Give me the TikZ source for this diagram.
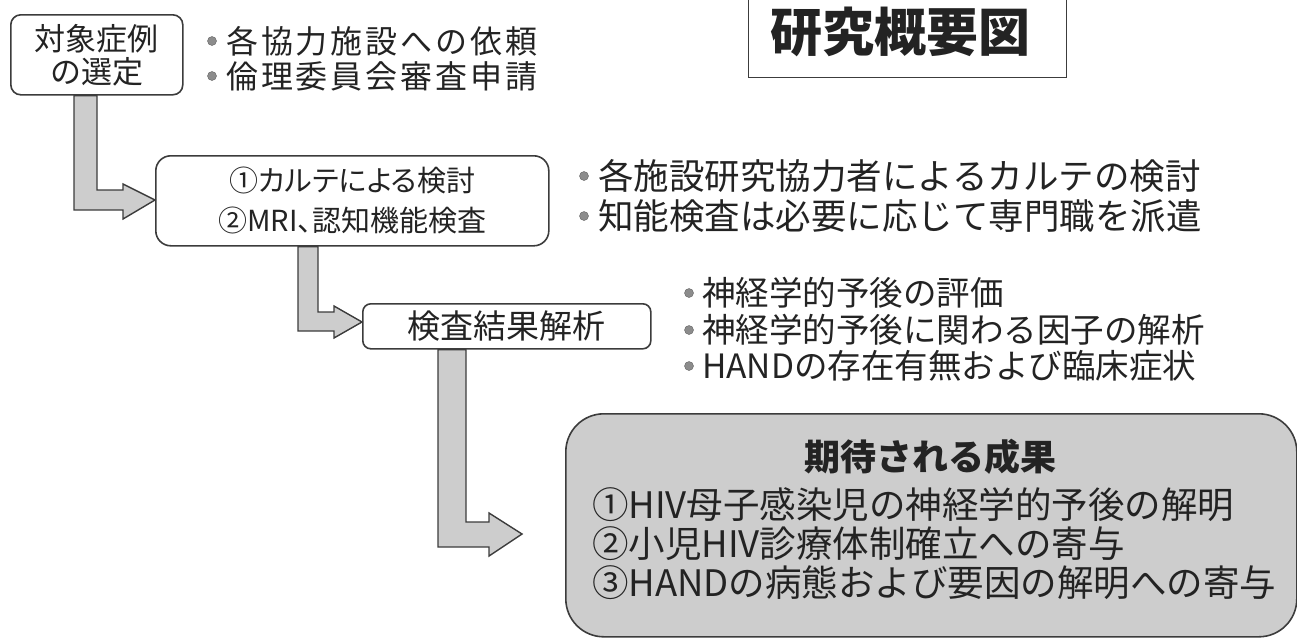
\documentclass[tikz,border=0pt]{standalone}
\usepackage{fontspec}
\setmainfont{Noto Sans CJK JP}
\newfontfamily\jpp[RawFeature=+palt]{Noto Sans CJK JP}
\newfontfamily\jpw[LetterSpace=9]{Noto Sans CJK JP}
\definecolor{inkc}{RGB}{35,35,35}
\definecolor{edgec}{RGB}{60,60,60}
\definecolor{fillg}{RGB}{205,205,205}
\definecolor{dotc}{RGB}{140,140,140}
\tikzset{
  rbox/.style={draw=edgec, line width=1.6pt, fill=white, align=center, text=inkc, inner sep=0pt},
  btxt/.style={anchor=west, text=inkc, inner sep=0pt, font=\fontsize{35.5}{36}\selectfont},
  bdot/.style={fill=dotc, draw=dotc!70!black, line width=0.4pt},
  barrow/.style={draw=edgec, line width=1.4pt, fill=fillg, line join=miter},
  rtxt/.style={text=inkc, anchor=west, font=\fontsize{36.5}{37}\selectfont, inner sep=0pt},
}
\begin{document}
\begin{tikzpicture}[x=1pt,y=-1pt]
\useasboundingbox (0,0) rectangle (1297,643);
% boxes
\node[rbox, rounded corners=10, minimum width=172, minimum height=80, anchor=north west,
      font=\fontsize{31}{31}\selectfont] (b1) at (10,14) {対象症例\\[2pt]の選定};
\node[draw=edgec, line width=1.4pt, minimum width=318, minimum height=90, anchor=south west,
      inner sep=0pt] (title) at (748,78) {};
\node[text=inkc, font=\bfseries\fontsize{52}{52}\selectfont, inner sep=0pt] (tt) at (900,32) {研究概要図};
\node[rbox, rounded corners=15, minimum width=393, minimum height=90, anchor=north west,
      font=\jpp\fontsize{29}{29}\selectfont] (b2) at (155,155) {①カルテによる検討\\[11pt]②MRI、認知機能検査};
\node[rbox, rounded corners=8, minimum width=288, minimum height=45, anchor=north west,
      font=\fontsize{33}{33}\selectfont] (b3) at (362,303) {検査結果解析};
\node[rbox, fill=fillg, rounded corners=38, minimum width=731, minimum height=223, anchor=north west] (b4) at (565,413) {};
% box 4 text
\node[text=inkc, font=\bfseries\fontsize{36}{36}\selectfont, inner sep=0pt] (r0) at (930,457) {期待される成果};
\node[rtxt] (r1) at (592,505) {①HIV母子感染児の神経学的予後の解明};
\node[rtxt] (r2) at (592,544) {②小児HIV診療体制確立への寄与};
\node[rtxt] (r3) at (592,583) {③HANDの病態および要因の解明への寄与};
% bullets 1
\fill[bdot] (212,41) circle (4.5);
\fill[bdot] (212,76) circle (4.5);
\node[btxt, font=\jpw\fontsize{32}{32}\selectfont] (t11) at (226,41) {各協力施設への依頼};
\node[btxt, font=\jpw\fontsize{32}{32}\selectfont] (t12) at (226,76) {倫理委員会審査申請};
% bullets 2
\fill[bdot] (584,176) circle (4.5);
\fill[bdot] (584,216) circle (4.5);
\node[btxt] (t21) at (598,176) {各施設研究協力者によるカルテの検討};
\node[btxt] (t22) at (598,216) {知能検査は必要に応じて専門職を派遣};
% bullets 3
\fill[bdot] (689,293) circle (4.5);
\fill[bdot] (689,330) circle (4.5);
\fill[bdot] (689,366) circle (4.5);
\node[btxt, font=\fontsize{33.5}{34}\selectfont] (t31) at (702,293) {神経学的予後の評価};
\node[btxt, font=\fontsize{33.5}{34}\selectfont] (t32) at (702,330) {神経学的予後に関わる因子の解析};
\node[btxt, font=\fontsize{33.5}{34}\selectfont] (t33) at (702,366) {HANDの存在有無および臨床症状};
% block arrows
\draw[barrow] (74,0 |- b1.south) -- (74,210) -- (123,210) -- (123,219) -- (b2.west |- 0,200)
   -- (123,184) -- (123,190) -- (97,190) -- (97,0 |- b1.south) -- cycle;
\draw[barrow] (298,0 |- b2.south) -- (298,331) -- (334,331) -- (334,338) -- (b3.west |- 0,322)
   -- (334,306) -- (334,312) -- (318,312) -- (318,0 |- b2.south) -- cycle;
\draw[barrow] (438,0 |- b3.south) -- (438,547) -- (489,547) -- (489,556) -- (522,534)
   -- (489,513) -- (489,522) -- (466,522) -- (466,0 |- b3.south) -- cycle;
\end{tikzpicture}
\end{document}
